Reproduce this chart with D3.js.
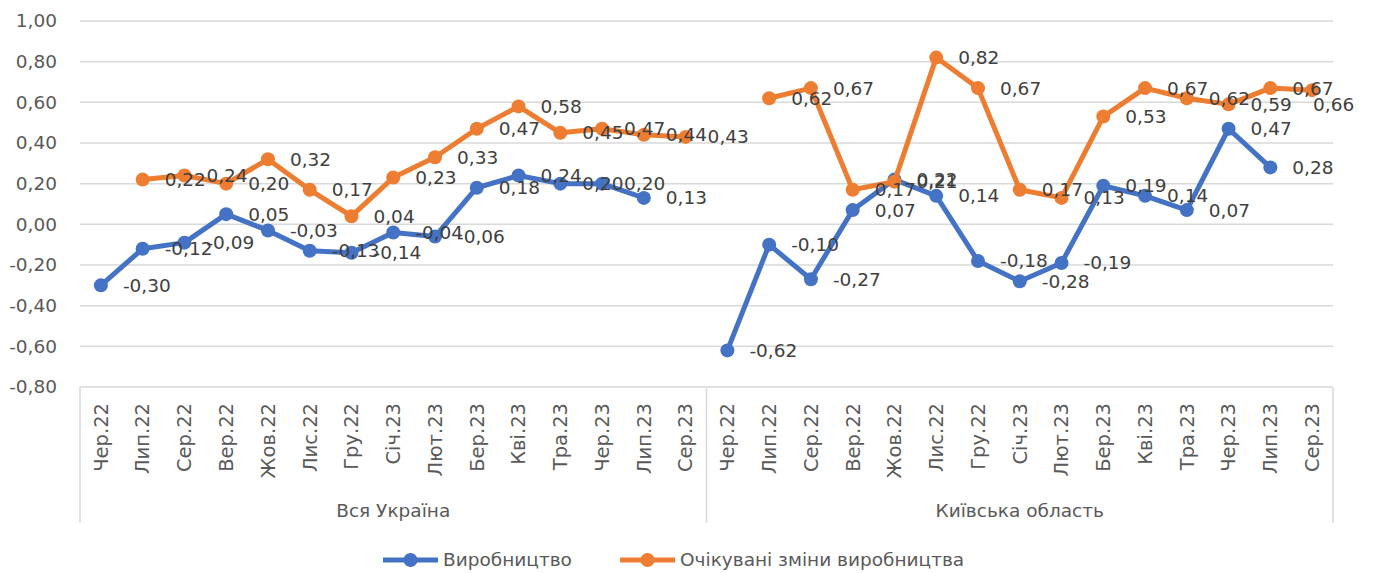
<!DOCTYPE html>
<html>
<head>
<meta charset="utf-8">
<script src="https://cdn.jsdelivr.net/npm/d3@7"></script>
<style>
  body { margin: 0; background: #fff; }
  svg text { font-family: "DejaVu Sans", sans-serif; }
</style>
</head>
<body>
<svg id="chart" width="1373" height="573"></svg>
<script>
const months = ['Чер.22', 'Лип.22', 'Сер.22', 'Вер.22', 'Жов.22', 'Лис.22', 'Гру.22', 'Січ.23',
    'Лют.23', 'Бер.23', 'Кві.23', 'Тра.23', 'Чер.23', 'Лип.23', 'Сер.23'];
const groups = ['Вся Україна', 'Київська область'];
const seriesNames = ['Виробництво', 'Очікувані зміни виробництва'];
const yTicks = [-0.8, -0.6, -0.4, -0.2, 0, 0.2, 0.4, 0.6, 0.8, 1.0];

// Виробництво
const prodUkraine = [-0.30, -0.12, -0.09, 0.05, -0.03, -0.13, -0.14, -0.04, -0.06, 0.18, 0.24, 0.20, 0.20, 0.13, null];
const prodKyiv = [-0.62, -0.10, -0.27, 0.07, 0.22, 0.14, -0.18, -0.28, -0.19, 0.19, 0.14, 0.07, 0.47, 0.28, null];
// Очікувані зміни виробництва
const expUkraine = [null, 0.22, 0.24, 0.20, 0.32, 0.17, 0.04, 0.23, 0.33, 0.47, 0.58, 0.45, 0.47, 0.44, 0.43];
const expKyiv = [null, 0.62, 0.67, 0.17, 0.21, 0.82, 0.67, 0.17, 0.13, 0.53, 0.67, 0.62, 0.59, 0.67, 0.66];

const COLORS = ['#4472c4', '#ed7d31'];
const MARGIN = {top: 21, right: 40, bottom: 186, left: 80};
const WIDTH = 1373, HEIGHT = 573;
const LABEL_MAX_X = 1313;

const locale = d3.formatLocale({decimal: ',', thousands: ' ', grouping: [3], currency: ['', ''], minus: '-'});
const fmt = locale.format('.2f');

// one key per category: group + month
const keys = [];
groups.forEach((g, gi) => months.forEach((m, mi) => keys.push(gi + '|' + m)));

const series = [
    prodUkraine.concat(prodKyiv),
    expUkraine.concat(expKyiv)
].map((vals, si) => ({name: seriesNames[si], color: COLORS[si],
    values: vals.map((v, i) => ({key: keys[i], value: v}))}));

const svg = d3.select('#chart');

const xScale = d3.scaleBand()
    .domain(keys)
    .range([MARGIN.left, WIDTH - MARGIN.right]);

const yScale = d3.scaleLinear()
    .domain([-0.8, 1.0])
    .range([HEIGHT - MARGIN.bottom, MARGIN.top]);

// gridlines
svg.append('g')
    .selectAll('line')
    .data(yTicks)
    .join('line')
    .attr('x1', MARGIN.left)
    .attr('x2', WIDTH - MARGIN.right)
    .attr('y1', d => yScale(d))
    .attr('y2', d => yScale(d))
    .attr('stroke', '#d9d9d9')
    .attr('stroke-width', 1.5);

// y axis
const yAxis = d3.axisLeft(yScale)
    .tickValues(yTicks)
    .tickSize(0)
    .tickPadding(23)
    .tickFormat(fmt);
svg.append('g')
    .attr('transform', `translate(${MARGIN.left}, 0)`)
    .call(yAxis)
    .call(g => g.select('.domain').remove())
    .selectAll('text')
    .attr('font-size', 18.5)
    .attr('fill', '#595959');

// x axis, months rotated
const xAxis = d3.axisBottom(xScale)
    .tickSize(0)
    .tickFormat(d => d.split('|')[1]);
svg.append('g')
    .attr('transform', `translate(0, ${yScale(-0.8)})`)
    .call(xAxis)
    .call(g => g.select('.domain').remove())
    .selectAll('text')
    .attr('transform', 'rotate(-90)')
    .attr('text-anchor', 'end')
    .attr('x', -16)
    .attr('y', 0)
    .attr('dy', '0.35em')
    .attr('font-size', 19.5)
    .attr('fill', '#595959');

// group separators
const bottomLine = yScale(-0.8);
const sepX = [xScale(keys[0]), xScale(keys[months.length]), xScale(keys[keys.length - 1]) + xScale.bandwidth()];
svg.append('g')
    .selectAll('line')
    .data(sepX)
    .join('line')
    .attr('x1', d => d)
    .attr('x2', d => d)
    .attr('y1', bottomLine)
    .attr('y2', 523)
    .attr('stroke', '#d9d9d9')
    .attr('stroke-width', 1.5);

svg.append('g')
    .selectAll('text')
    .data(groups)
    .join('text')
    .attr('x', (d, i) => (sepX[i] + sepX[i + 1]) / 2)
    .attr('y', 517)
    .attr('text-anchor', 'middle')
    .attr('font-size', 18.5)
    .attr('fill', '#595959')
    .text(d => d);

// lines and markers
const cx = d => xScale(d.key) + xScale.bandwidth() / 2;
const line = d3.line()
    .defined(d => d.value !== null)
    .x(cx)
    .y(d => yScale(d.value));

const seriesG = svg.append('g')
    .selectAll('g')
    .data(series)
    .join('g');

seriesG.append('path')
    .attr('d', d => line(d.values))
    .attr('fill', 'none')
    .attr('stroke', d => d.color)
    .attr('stroke-width', 5)
    .attr('stroke-linejoin', 'round');

seriesG.each(function(s) {
    d3.select(this).selectAll('circle')
        .data(s.values.filter(d => d.value !== null))
        .join('circle')
        .attr('cx', cx)
        .attr('cy', d => yScale(d.value))
        .attr('r', 7)
        .attr('fill', s.color);
});

// data labels, to the right of each point (pushed in and down at the right edge)
seriesG.each(function(s) {
    d3.select(this).selectAll('text')
        .data(s.values.filter(d => d.value !== null))
        .join('text')
        .attr('x', d => Math.min(cx(d) + 22, LABEL_MAX_X))
        .attr('y', d => yScale(d.value) + (cx(d) + 22 > LABEL_MAX_X ? 14 : 0))
        .attr('dy', '0.35em')
        .attr('font-size', 18.5)
        .attr('fill', '#404040')
        .text(d => fmt(d.value));
});

// legend
const legendX = [383, 620];
const legend = svg.append('g')
    .selectAll('g')
    .data(series)
    .join('g')
    .attr('transform', (d, i) => `translate(${legendX[i]}, 560)`);
legend.append('line')
    .attr('x1', 0).attr('x2', 55)
    .attr('stroke', d => d.color)
    .attr('stroke-width', 5);
legend.append('circle')
    .attr('cx', 27.5)
    .attr('r', 7)
    .attr('fill', d => d.color);
legend.append('text')
    .attr('x', 60)
    .attr('dy', '0.35em')
    .attr('font-size', 18.5)
    .attr('fill', '#595959')
    .text(d => d.name);
</script>
</body>
</html>
